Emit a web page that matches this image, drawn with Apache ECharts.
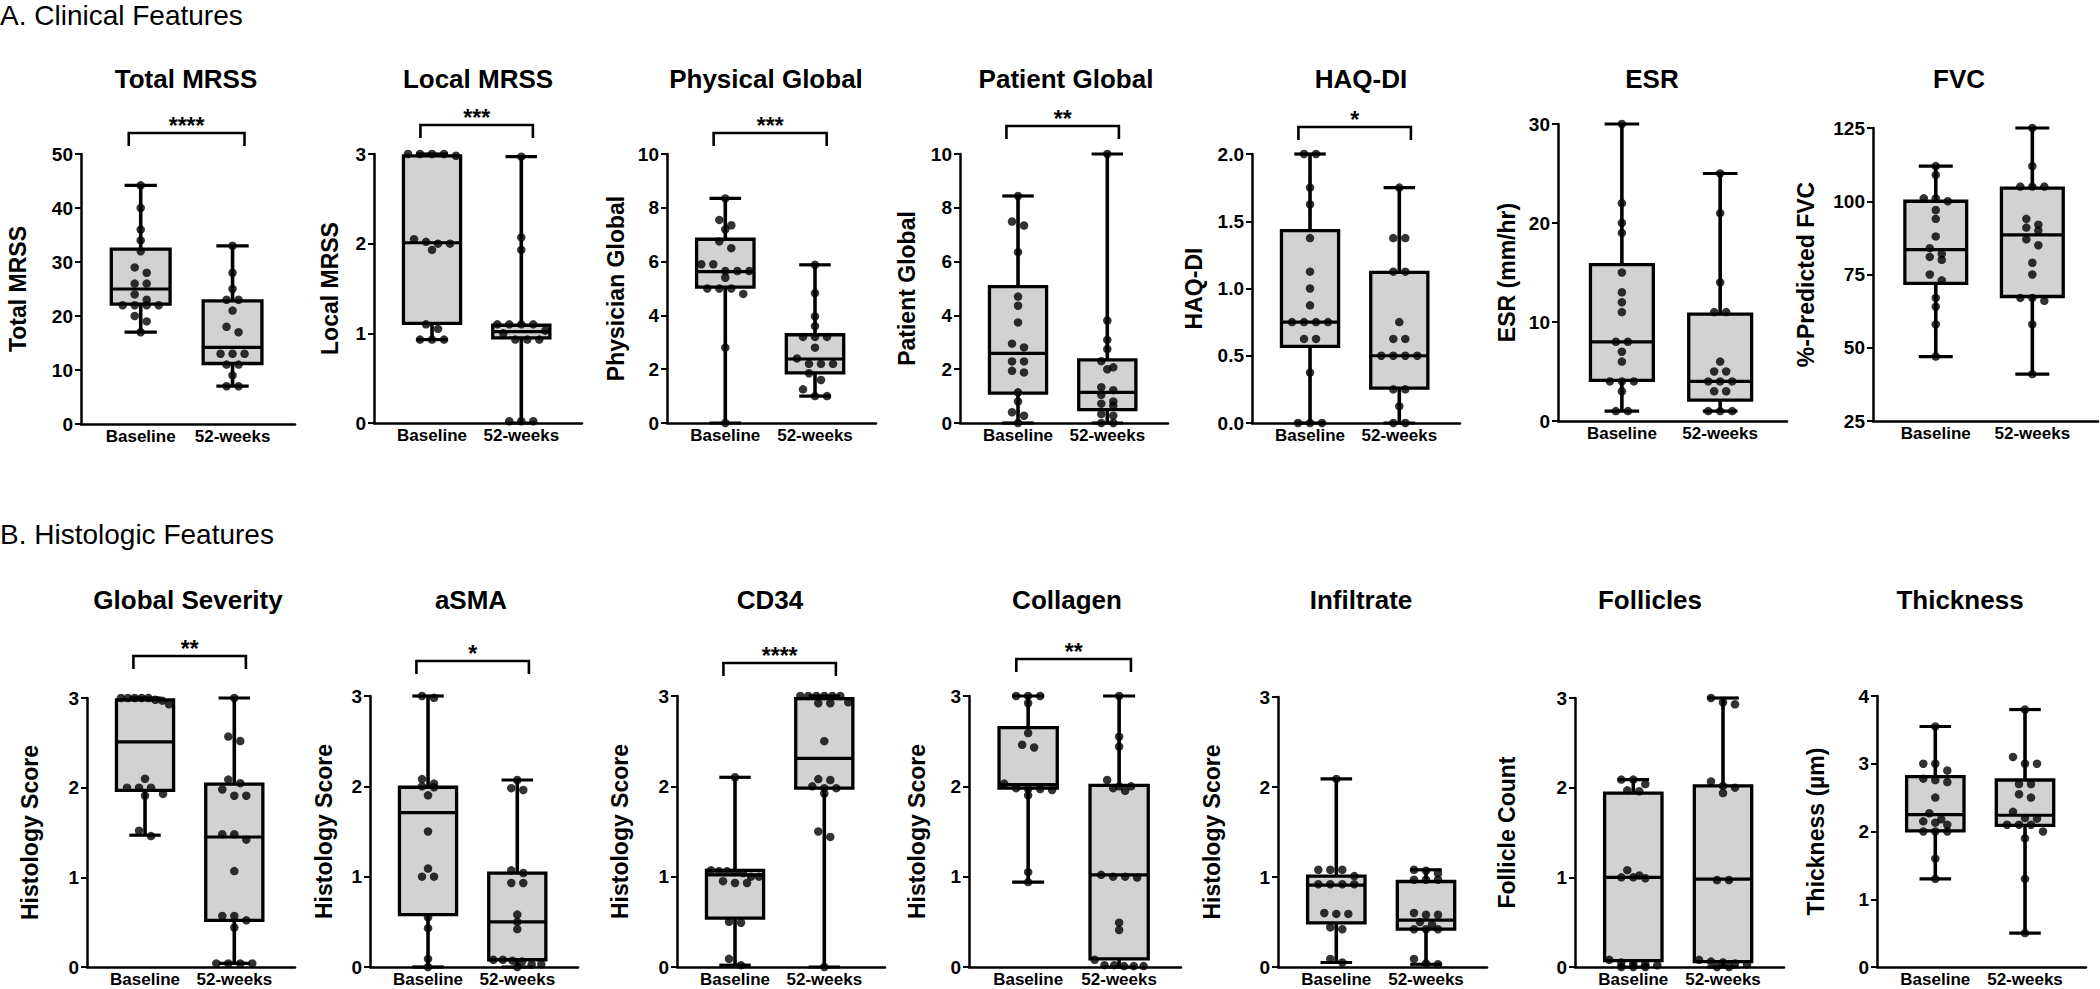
<!DOCTYPE html>
<html><head><meta charset="utf-8">
<script src="https://cdn.jsdelivr.net/npm/echarts@6/dist/echarts.min.js"></script>
<style>html,body{margin:0;padding:0;background:#fff}#chart{width:2100px;height:989px}</style>
</head><body><div id="chart"></div>
<script>
// ---------- DATA ----------
const groups = ['Baseline', '52-weeks'];
const sectionTitles = ['A. Clinical Features', 'B. Histologic Features'];

// Box summaries: [min, Q1, median, Q3, max] for Baseline and 52-weeks
const totalMrssBase = [44.2, 40, 36, 34, 32, 29, 28, 26, 26, 24, 23, 22, 22, 22, 22, 20, 19, 17];
const totalMrssWk52 = [33, 28, 25, 23, 23, 21, 18, 17, 13, 13, 13, 11, 11, 9, 7, 7];
const totalMrssBox = [[17, 22.2, 25, 32.4, 44.2], [7, 11.2, 14.2, 22.8, 33]];

const localMrssBase = [3, 3, 3, 3, 2.98, 2.05, 2.02, 2.0, 2.0, 1.93, 1.1, 1.05, 0.93, 0.93, 0.93];
const localMrssWk52 = [2.97, 2.07, 1.93, 1.1, 1.1, 1.1, 1.1, 1.03, 1.0, 0.93, 0.93, 0.93, 0.02, 0.02, 0.02];
const localMrssBox = [[0.93, 1.11, 2.01, 2.98, 3], [0, 0.95, 1.02, 1.09, 2.97]];

const physGlobalBase = [8.35, 7.55, 7.35, 7.2, 6.75, 6.5, 5.9, 5.9, 5.65, 5.65, 5.65, 5.4, 5.0, 5.0, 5.0, 4.8, 2.8, 0];
const physGlobalWk52 = [5.88, 4.83, 3.96, 3.6, 3.2, 3.2, 3.2, 2.8, 2.4, 2.2, 2.2, 2.2, 1.85, 1.6, 1.25, 1.0, 1.0];
const physGlobalBox = [[0, 5.05, 5.63, 6.83, 8.35], [1.0, 1.86, 2.38, 3.28, 5.88]];

const patGlobalBase = [8.44, 7.49, 7.34, 6.35, 4.7, 4.36, 3.74, 2.95, 2.81, 2.29, 2.29, 1.94, 1.88, 1.14, 0.8, 0.4, 0.27, 0];
const patGlobalWk52 = [10, 3.81, 3.09, 2.75, 2.3, 2.07, 2.0, 1.33, 1.22, 1.05, 0.8, 0.72, 0.64, 0.33, 0.27, 0, 0];
const patGlobalBox = [[0, 1.11, 2.59, 5.07, 8.44], [0, 0.5, 1.14, 2.35, 10]];

const haqBase = [2, 2, 1.75, 1.625, 1.375, 1.125, 1.0, 0.875, 0.75, 0.75, 0.75, 0.75, 0.625, 0.625, 0.375, 0, 0, 0];
const haqWk52 = [1.75, 1.375, 1.375, 1.125, 1.125, 0.75, 0.625, 0.625, 0.5, 0.5, 0.5, 0.5, 0.25, 0.25, 0.125, 0, 0];
const haqBox = [[0, 0.57, 0.75, 1.43, 2], [0, 0.26, 0.5, 1.12, 1.75]];

const esrBase = [30, 22, 20, 19, 15, 13, 12, 11, 8, 8, 7, 6, 4, 4, 4, 3, 1, 1];
const esrWk52 = [25, 21, 14, 11, 11, 6, 5, 5, 4, 4, 4, 3, 3, 1, 1, 1];
const esrBox = [[1, 4.1, 8, 15.8, 30], [1, 2.1, 4, 10.8, 25]];

const fvcBase = [112, 109, 101, 101, 100, 97, 94, 88, 84, 82, 81, 80, 75, 73, 67, 64, 58, 47];
const fvcWk52 = [125, 112, 105, 105, 105, 94, 92, 91, 90, 87, 85, 79, 75, 67, 67, 66, 58, 41];
const fvcBox = [[47, 72, 83.5, 100, 112], [41, 67.5, 88.5, 104.5, 125]];

const sevBase = [3, 3, 3, 3, 3, 2.98, 2.97, 2.93, 2.1, 2.0, 2.0, 2.0, 1.93, 1.91, 1.52, 1.46];
const sevWk52 = [3, 2.57, 2.52, 2.09, 2.05, 1.98, 1.91, 1.91, 1.48, 1.48, 1.42, 1.07, 0.57, 0.57, 0.52, 0.44, 0.04, 0.04, 0.04, 0.04];
const sevBox = [[1.47, 1.97, 2.51, 2.98, 3], [0.04, 0.52, 1.45, 2.04, 3]];

const asmaBase = [3, 2.98, 2.08, 2.03, 2.0, 1.99, 1.9, 1.5, 1.09, 1.0, 1.0, 0.55, 0.43, 0.09, 0];
const asmaWk52 = [2.07, 1.98, 1.96, 1.07, 1.04, 0.93, 0.93, 0.58, 0.5, 0.42, 0.08, 0.08, 0.07, 0.06, 0.03, 0.03, 0];
const asmaBox = [[0, 0.58, 1.71, 1.99, 3], [0, 0.08, 0.5, 1.04, 2.07]];

const cd34Base = [2.1, 1.07, 1.06, 1.06, 1.05, 1.04, 1.0, 1.0, 0.95, 0.93, 0.93, 0.5, 0.49, 0.09, 0.02];
const cd34Wk52 = [3, 3, 3, 3, 3, 3, 2.93, 2.92, 2.92, 2.5, 2.08, 2.07, 2.0, 1.98, 1.98, 1.92, 1.5, 1.44, 0];
const cd34Box = [[0.02, 0.54, 1.02, 1.07, 2.1], [0, 1.98, 2.31, 2.97, 3]];

const collagenBase = [3, 3, 3, 2.92, 2.59, 2.46, 2.43, 2.03, 1.98, 1.97, 1.97, 1.96, 1.9, 1.05, 0.94];
const collagenWk52 = [3, 2.55, 2.44, 2.07, 2.0, 2.0, 1.98, 1.95, 1.02, 1.0, 1.0, 0.99, 0.49, 0.41, 0.08, 0.02, 0.02, 0.01, 0.01, 0.01];
const collagenBox = [[0.94, 1.98, 2.02, 2.65, 3], [0, 0.09, 1.02, 2.01, 3]];

const infilBase = [2.09, 1.08, 1.08, 1.08, 1.01, 0.92, 0.92, 0.92, 0.92, 0.6, 0.59, 0.59, 0.44, 0.42, 0.09, 0.05];
const infilWk52 = [1.08, 1.07, 1.04, 0.97, 0.97, 0.97, 0.6, 0.58, 0.58, 0.5, 0.47, 0.42, 0.42, 0.42, 0.09, 0.04, 0.03];
const infilBox = [[0.05, 0.49, 0.91, 1.01, 2.09], [0.03, 0.42, 0.52, 0.95, 1.08]];

const follBase = [2.09, 2.09, 2.04, 1.97, 1.96, 1.08, 1.02, 1.0, 1.0, 0.99, 0.08, 0.05, 0.04, 0.03, 0.02, 0, 0, 0];
const follWk52 = [3.0, 2.95, 2.93, 2.07, 2.02, 2.0, 1.94, 0.97, 0.97, 0.08, 0.06, 0.05, 0.04, 0.03, 0, 0];
const follBox = [[0, 0.07, 1.0, 1.94, 2.09], [0, 0.06, 0.98, 2.02, 3.0]];

const thickBase = [3.55, 3.0, 3.0, 2.9, 2.78, 2.76, 2.73, 2.5, 2.27, 2.18, 2.15, 2.13, 2.1, 2.0, 2.0, 2.0, 1.6, 1.3];
const thickWk52 = [3.8, 3.1, 3.0, 3.0, 2.7, 2.7, 2.55, 2.5, 2.29, 2.2, 2.19, 2.1, 2.1, 2.1, 2.0, 1.9, 1.3, 0.5];
const thickBox = [[1.3, 2.01, 2.25, 2.81, 3.55], [0.5, 2.09, 2.24, 2.76, 3.8]];

// Panel definitions: title, y-axis name, axis range/step, label decimals, significance
const panelDefs = [
  {title: 'Total MRSS', yName: 'Total MRSS', yMin: 0, yMax: 50, yStep: 10, dec: 0, sig: '****', pts: [totalMrssBase, totalMrssWk52], box: totalMrssBox},
  {title: 'Local MRSS', yName: 'Local MRSS', yMin: 0, yMax: 3, yStep: 1, dec: 0, sig: '***', pts: [localMrssBase, localMrssWk52], box: localMrssBox},
  {title: 'Physical Global', yName: 'Physician Global', yMin: 0, yMax: 10, yStep: 2, dec: 0, sig: '***', pts: [physGlobalBase, physGlobalWk52], box: physGlobalBox},
  {title: 'Patient Global', yName: 'Patient Global', yMin: 0, yMax: 10, yStep: 2, dec: 0, sig: '**', pts: [patGlobalBase, patGlobalWk52], box: patGlobalBox},
  {title: 'HAQ-DI', yName: 'HAQ-DI', yMin: 0, yMax: 2, yStep: 0.5, dec: 1, sig: '*', pts: [haqBase, haqWk52], box: haqBox},
  {title: 'ESR', yName: 'ESR (mm/hr)', yMin: 0, yMax: 30, yStep: 10, dec: 0, sig: '', pts: [esrBase, esrWk52], box: esrBox},
  {title: 'FVC', yName: '%-Predicted FVC', yMin: 25, yMax: 125, yStep: 25, dec: 0, sig: '', pts: [fvcBase, fvcWk52], box: fvcBox},
  {title: 'Global Severity', yName: 'Histology Score', yMin: 0, yMax: 3, yStep: 1, dec: 0, sig: '**', pts: [sevBase, sevWk52], box: sevBox},
  {title: 'aSMA', yName: 'Histology Score', yMin: 0, yMax: 3, yStep: 1, dec: 0, sig: '*', pts: [asmaBase, asmaWk52], box: asmaBox},
  {title: 'CD34', yName: 'Histology Score', yMin: 0, yMax: 3, yStep: 1, dec: 0, sig: '****', pts: [cd34Base, cd34Wk52], box: cd34Box},
  {title: 'Collagen', yName: 'Histology Score', yMin: 0, yMax: 3, yStep: 1, dec: 0, sig: '**', pts: [collagenBase, collagenWk52], box: collagenBox},
  {title: 'Infiltrate', yName: 'Histology Score', yMin: 0, yMax: 3, yStep: 1, dec: 0, sig: '', pts: [infilBase, infilWk52], box: infilBox},
  {title: 'Follicles', yName: 'Follicle Count', yMin: 0, yMax: 3, yStep: 1, dec: 0, sig: '', pts: [follBase, follWk52], box: follBox},
  {title: 'Thickness', yName: 'Thickness (\u00b5m)', yMin: 0, yMax: 4, yStep: 1, dec: 0, sig: '', pts: [thickBase, thickWk52], box: thickBox}
];

// ---------- LAYOUT (pixels) ----------
// [gridLeft, gridTop, gridWidth, gridHeight, titleCenterX, titleCenterY, nameGap, bracketGap]
const layout = [
  [81, 154, 214, 270, 186, 79, 52, 21],
  [374, 154, 208, 269, 478, 79, 33, 29],
  [667, 154, 209, 269, 766, 79, 40, 21],
  [960, 154, 208, 269, 1066, 79, 42, 28],
  [1252, 154, 208, 269, 1361, 79, 47, 27],
  [1558, 124, 229, 297, 1652, 79, 40, 0],
  [1873, 128, 225, 293, 1959, 79, 56, 0],
  [87, 698, 208, 269, 188, 600, 46, 42],
  [370, 696, 208, 271, 471, 600, 35, 35],
  [677, 696, 208, 271, 770, 600, 46, 33],
  [969, 696, 212, 271, 1067, 600, 41, 37],
  [1278, 697, 209, 270, 1361, 600, 55, 0],
  [1575, 698, 209, 269, 1650, 600, 57, 0],
  [1877, 696, 209, 271, 1960, 600, 50, 0]
];
const sectionPos = [[0, 15], [0, 534]];

const FONT = '"Liberation Sans", Arial, Helvetica, sans-serif';
const X_MIN = -0.65, X_MAX = 1.68;
const BOX_W = 0.64;      // box width in category units
const CAP_RATIO = 0.55;  // cap width relative to box
const ROW_TOL = 7;       // px: values closer than this share a dot row
const DOT_STEP = 12;     // px between dots in a row
const ROW_MAX = 0.84;    // max row span relative to box width
const BR_EXT = 0.13;     // bracket overhang beyond category centre
const BR_LEG = 13;       // bracket leg length px
const BOX_FILL = '#d2d2d2';

// ---------- HELPERS ----------
function swarm(values, idx, pxPerY, pxPerX) {
  const sorted = values.slice().sort((a, b) => b - a);
  const rows = [];
  for (const v of sorted) {
    const last = rows[rows.length - 1];
    if (last && Math.abs(last[0] - v) * pxPerY < ROW_TOL) last.push(v);
    else rows.push([v]);
  }
  const maxSpan = BOX_W * ROW_MAX * pxPerX;
  const out = [];
  rows.forEach(r => {
    const step = r.length > 1 ? Math.min(DOT_STEP, maxSpan / (r.length - 1)) : 0;
    r.forEach((v, i) => out.push([idx + (i - (r.length - 1) / 2) * step / pxPerX, v]));
  });
  return out;
}

function renderBox(params, api) {
  const xi = api.value(0);
  const v = [1, 2, 3, 4, 5].map(k => api.value(k));
  const c = val => api.coord([xi, val]);
  const pMin = c(v[0]), pQ1 = c(v[1]), pMed = c(v[2]), pQ3 = c(v[3]), pMax = c(v[4]);
  const halfBox = api.size([BOX_W, 0])[0] / 2;
  const halfCap = halfBox * CAP_RATIO;
  const x = pMed[0];
  const wh = {stroke: '#000', lineWidth: 3.6, fill: null, lineCap: 'butt'};
  const st = {stroke: '#000', lineWidth: 3.2, fill: null, lineCap: 'butt'};
  return {
    type: 'group',
    children: [
      {type: 'line', shape: {x1: x, y1: pMax[1], x2: x, y2: pQ3[1]}, style: wh},
      {type: 'line', shape: {x1: x, y1: pQ1[1], x2: x, y2: pMin[1]}, style: wh},
      {type: 'line', shape: {x1: x - halfCap, y1: pMax[1], x2: x + halfCap, y2: pMax[1]}, style: st},
      {type: 'line', shape: {x1: x - halfCap, y1: pMin[1], x2: x + halfCap, y2: pMin[1]}, style: st},
      {type: 'rect', shape: {x: x - halfBox, y: pQ3[1], width: 2 * halfBox, height: pQ1[1] - pQ3[1]},
        style: {fill: BOX_FILL, stroke: '#000', lineWidth: 3.3}},
      {type: 'line', shape: {x1: x - halfBox, y1: pMed[1], x2: x + halfBox, y2: pMed[1]}, style: st}
    ]
  };
}

function makeBracket(label, gap) {
  return function (params, api) {
    const top = params.coordSys.y;
    const yb = top - gap;
    const x0 = api.coord([-BR_EXT, 0])[0];
    const x1 = api.coord([1 + BR_EXT, 0])[0];
    return {
      type: 'group',
      children: [
        {type: 'polyline', shape: {points: [[x0, yb + BR_LEG], [x0, yb], [x1, yb], [x1, yb + BR_LEG]]},
          style: {stroke: '#000', lineWidth: 2.6, fill: null}},
        {type: 'text', x: (x0 + x1) / 2, y: yb - 7,
          style: {text: label, fill: '#000', font: 'bold 23px ' + FONT,
            align: 'center', verticalAlign: 'middle', textAlign: 'center', textVerticalAlign: 'middle'}}
      ]
    };
  };
}

// ---------- BUILD OPTION ----------
const grids = [], xAxes = [], yAxes = [], series = [], graphics = [];

sectionTitles.forEach((t, k) => {
  graphics.push({type: 'text', x: sectionPos[k][0], y: sectionPos[k][1], silent: true,
    style: {text: t, fill: '#000', font: '28px ' + FONT, align: 'left', verticalAlign: 'middle',
      textAlign: 'left', textVerticalAlign: 'middle'}});
});

panelDefs.forEach((p, i) => {
  const L = layout[i];
  grids.push({left: L[0], top: L[1], width: L[2], height: L[3], containLabel: false, outerBoundsMode: 'none'});
  xAxes.push({
    type: 'value', gridIndex: i, min: X_MIN, max: X_MAX,
    axisLine: {show: true, onZero: false, lineStyle: {color: '#000', width: 2.5}},
    axisTick: {show: false}, splitLine: {show: false},
    axisLabel: {show: true, customValues: [0, 1], formatter: v => groups[Math.round(v)] || '',
      color: '#000', fontWeight: 'bold', fontSize: 17, lineHeight: 17, fontFamily: FONT, margin: 4}
  });
  yAxes.push({
    type: 'value', gridIndex: i, min: p.yMin, max: p.yMax, interval: p.yStep,
    name: p.yName, nameLocation: 'middle', nameRotate: 90, nameGap: L[6],
    nameTextStyle: {color: '#000', fontWeight: 'bold', fontSize: 23, fontFamily: FONT},
    axisLine: {show: true, onZero: false, lineStyle: {color: '#000', width: 2.5}},
    axisTick: {show: true, inside: false, length: 6, lineStyle: {color: '#000', width: 2}},
    axisLabel: {formatter: v => v.toFixed(p.dec), color: '#000', fontWeight: 'bold', fontSize: 19,
      fontFamily: FONT, margin: 8, showMinLabel: true, showMaxLabel: true},
    splitLine: {show: false}
  });
  graphics.push({type: 'text', x: L[4], y: L[5], silent: true,
    style: {text: p.title, fill: '#000', font: 'bold 26px ' + FONT, align: 'center', verticalAlign: 'middle',
      textAlign: 'center', textVerticalAlign: 'middle'}});

  const pxPerY = L[3] / (p.yMax - p.yMin);
  const pxPerX = L[2] / (X_MAX - X_MIN);

  series.push({
    type: 'custom', xAxisIndex: i, yAxisIndex: i, renderItem: renderBox, silent: true, z: 2,
    encode: {x: 0, y: [1, 2, 3, 4, 5]},
    data: p.box.map((b, g) => [g].concat(b))
  });
  series.push({
    type: 'scatter', xAxisIndex: i, yAxisIndex: i, symbol: 'circle', symbolSize: 8.5,
    itemStyle: {color: '#000'}, silent: true, clip: false, z: 4,
    data: swarm(p.pts[0], 0, pxPerY, pxPerX).concat(swarm(p.pts[1], 1, pxPerY, pxPerX))
  });
  if (p.sig) {
    series.push({
      type: 'custom', xAxisIndex: i, yAxisIndex: i, renderItem: makeBracket(p.sig, L[7]),
      silent: true, clip: false, z: 3, encode: {x: 0, y: 1}, data: [[0, p.yMin]]
    });
  }
});

const chart = echarts.init(document.getElementById('chart'), null, {renderer: 'svg', width: 2100, height: 989});
chart.setOption({
  animation: false,
  backgroundColor: '#fff',
  textStyle: {fontFamily: FONT},
  grid: grids, xAxis: xAxes, yAxis: yAxes, series: series,
  graphic: {elements: graphics}
});
</script></body></html>
